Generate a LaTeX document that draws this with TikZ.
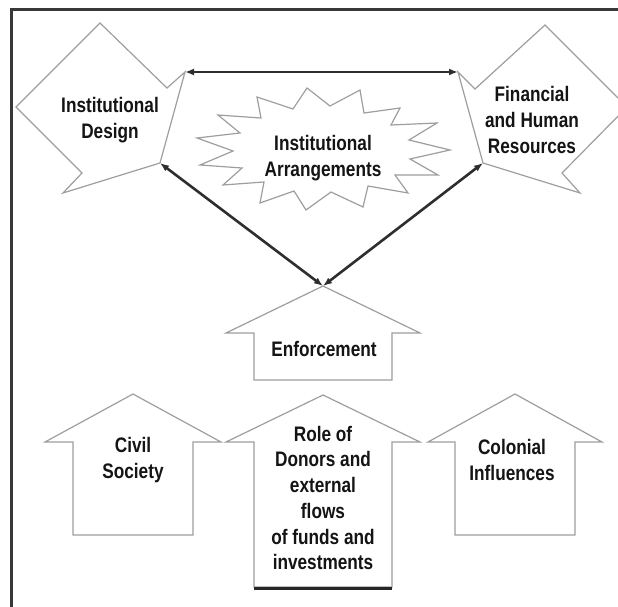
\documentclass[tikz,border=0pt]{standalone}
\usepackage{fontspec}
\setmainfont{Liberation Sans}[FakeStretch=0.82]
\usetikzlibrary{arrows.meta}

% up-pointing block arrow: centre x, apex y, shoulder y, bottom y, head half width, body half width
\newcommand{\housebox}[6]{%
  \draw[outline] (#1,#2) -- (#1+#5,#3) -- (#1+#6,#3) -- (#1+#6,#4)
    -- (#1-#6,#4) -- (#1-#6,#3) -- (#1-#5,#3) -- cycle;}

\begin{document}
\begin{tikzpicture}[x=1pt,y=-1pt,>={Latex[length=9pt,width=7pt]},
outline/.style={draw=black!38,fill=white,line width=1.2pt,line join=miter},
label/.style={align=center,font=\fontsize{21}{25.7}\selectfont\bfseries,text=black!92},
link/.style={<->,line width=2.6pt,draw=black!82},
frame/.style={line width=3pt,draw=black!78}]
\useasboundingbox (0,0) rectangle (618,607);
\clip (0,0) rectangle (618,607);

% corners where the links meet
\coordinate (dtop) at (185,72);
\coordinate (dbot) at (160,163);
\coordinate (rtop) at (458,72);
\coordinate (rbot) at (483,163);
\coordinate (apex) at (323,286);

% tilted arrows on both sides
\draw[outline] (100,23) -- (167,88) -- (dtop) -- (dbot) -- (63,193) -- (82,173) -- (16,107) -- cycle;
\draw[outline] (545,25) -- (627,107) -- (562,173) -- (580,193) -- (rbot) -- (rtop) -- (475,89) -- cycle;

% star in the middle
\draw[outline] (307,88) -- (330,106) -- (360,90) -- (364,113) -- (400,108) -- (391,125)
  -- (437,123) -- (409,140) -- (450,150) -- (410,159) -- (438,175) -- (395,175)
  -- (408,193) -- (368,186) -- (363,207) -- (331,192) -- (306,210) -- (294,191)
  -- (260,203) -- (264,182) -- (223,185) -- (242,168) -- (200,165) -- (233,151)
  -- (197,138) -- (240,133) -- (218,115) -- (261,118) -- (257,97) -- (293,109) -- cycle;

% block arrows below
\housebox{323}{286}{333}{380}{97}{69}
\housebox{133}{394}{442}{535}{88}{60}
\housebox{323}{395}{442}{587}{97}{69}
\housebox{515}{394}{442}{535}{87}{60}
\draw[line width=3pt,draw=black!85] (254,588) -- (392,588);

% texts
\node[label] (design) at (110,120) {Institutional\\Design};
\node[label] (resources) at (532,120) {Financial\\and Human\\Resources};
\node[label] (arrangements) at (323,158) {Institutional\\Arrangements};
\node[label] (enforce) at (324,349) {Enforcement};
\node[label] (civil) at (133,460) {Civil\\Society};
\node[label] (donors) at (323,498) {Role of\\Donors and\\external\\flows\\of funds and\\investments};
\node[label] (colonial) at (512,460) {Colonial\\Influences};

% links
\draw[link] (dtop) -- (rtop);
\draw[link] (dbot) -- (apex);
\draw[link] (rbot) -- (apex);

% frame
\draw[frame] (11,607) -- (11,10) -- (618,10);
\end{tikzpicture}
\end{document}
